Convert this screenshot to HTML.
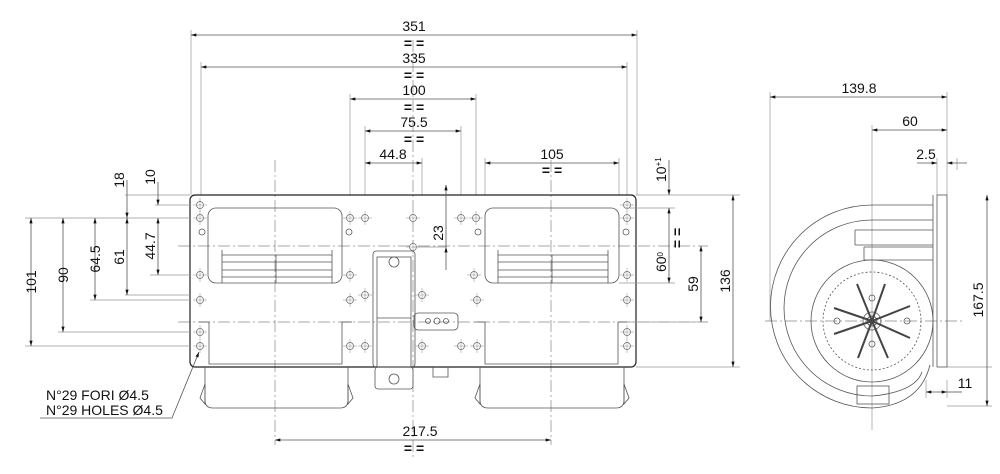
<!DOCTYPE html>
<html><head><meta charset="utf-8"><style>
html,body{margin:0;padding:0;background:#fff;width:1000px;height:474px;overflow:hidden}
svg{display:block}
text{font-family:"Liberation Sans",sans-serif;font-size:14px;fill:#111}
.d{stroke:#555;stroke-width:0.8;fill:none}
.e{stroke:#999;stroke-width:0.7;fill:none}
.c{stroke:#888;stroke-width:0.7;stroke-dasharray:12 3 2 3;fill:none}
.o{stroke:#222;stroke-width:1.2;fill:none}
.t{stroke:#555;stroke-width:0.8;fill:none}
.h{stroke:#666;stroke-width:0.7;fill:#fff}
</style></head><body>
<svg width="1000" height="474" viewBox="0 0 1000 474">
<defs>
<marker id="a" viewBox="0 0 10 6" refX="10" refY="3" markerWidth="8" markerHeight="4" orient="auto-start-reverse"><path d="M0,0L10,3L0,6z" fill="#111"/></marker>
<g id="hole"><circle r="3.5" class="h"/><path d="M-7,0h14M0,-7v14" stroke="#888" stroke-width="0.5"/></g>
</defs>

<g class="e">
<path d="M191,30V195M637,30V195M201,62V195M627,62V195M350,94V195M476,94V195M365,126V195M461,126V195M422,158V195M485,158V195M619,158V195"/>
</g>
<g class="d" marker-start="url(#a)" marker-end="url(#a)">
<path d="M191,35H637"/><path d="M201,67H627"/><path d="M350,99H476"/><path d="M365,131H461"/><path d="M365,163H422"/><path d="M485,163H619"/>
</g>
<g text-anchor="middle">
<text x="414" y="31">351</text><text x="414" y="63">335</text><text x="414" y="95">100</text><text x="414" y="127">75.5</text><text x="393" y="159">44.8</text><text x="552" y="159">105</text>
<text x="414" y="48" font-weight="bold">= =</text><text x="414" y="80" font-weight="bold">= =</text><text x="414" y="112" font-weight="bold">= =</text><text x="414" y="144" font-weight="bold">= =</text><text x="552" y="175" font-weight="bold">= =</text>
<text x="414" y="453" font-weight="bold">= =</text>
</g>
<g class="c">
<path d="M413,40V458"/><path d="M275,160V445"/><path d="M551,160V445"/>
<path d="M178,322H708"/><path d="M178,246H708"/>
</g>

<rect x="190" y="195" width="446" height="172" rx="5" class="o"/>
<g class="t">
<rect x="208" y="208" width="134" height="75" rx="8"/>
<rect x="485" y="208" width="134" height="75" rx="8"/>
<path d="M222,255H332M222,262H332M222,270H332M222,277H332M222,250V283M332,250V283M276,255V283"/>
<path d="M498,255H608M498,262H608M498,270H608M498,277H608M498,250V283M608,250V283M552,255V283"/>
<path d="M199,322H209V364H342V322H352"/>
<path d="M475,322H485V364H618V322H627"/>
<path d="M205,367V400Q205,408 213,408H340Q348,408 348,400V367"/>
<path d="M480,367V400Q480,408 488,408H616Q624,408 624,400V367"/>
<path d="M200,398L205,384V404zM353,398L348,384V404zM475,398L480,384V404zM629,398L624,384V404z"/>
<rect x="373" y="251" width="42" height="116" rx="3"/>
<rect x="377" y="257" width="34" height="110"/>
<rect x="375" y="367" width="38" height="22" rx="3"/>
<path d="M377,318H411"/>
<rect x="414" y="313" width="44" height="17" rx="4"/>
<path d="M433,367v10h15v-10"/>
</g>
<circle cx="394" cy="262" r="5" class="t"/><circle cx="394" cy="379" r="5" class="t"/>
<circle cx="437" cy="321" r="3" class="t"/><circle cx="428" cy="321" r="2.5" class="t"/><circle cx="446" cy="321" r="2.5" class="t"/>
<g>
<use href="#hole" x="200" y="205"/><use href="#hole" x="200" y="218"/><use href="#hole" x="200" y="275"/><use href="#hole" x="200" y="300"/><use href="#hole" x="200" y="332"/><use href="#hole" x="200" y="346"/>
<use href="#hole" x="350" y="218"/><use href="#hole" x="350" y="275"/><use href="#hole" x="350" y="300"/><use href="#hole" x="350" y="346"/>
<use href="#hole" x="365" y="218"/><use href="#hole" x="365" y="295"/><use href="#hole" x="365" y="346"/>
<use href="#hole" x="413" y="218"/><use href="#hole" x="413" y="247"/>
<use href="#hole" x="422" y="295"/><use href="#hole" x="422" y="346"/>
<use href="#hole" x="461" y="218"/><use href="#hole" x="476" y="218"/><use href="#hole" x="474" y="275"/><use href="#hole" x="477" y="300"/><use href="#hole" x="461" y="346"/><use href="#hole" x="477" y="346"/>
<use href="#hole" x="627" y="205"/><use href="#hole" x="627" y="218"/><use href="#hole" x="627" y="275"/><use href="#hole" x="627" y="300"/><use href="#hole" x="627" y="332"/><use href="#hole" x="627" y="346"/>
</g>
<circle cx="202" cy="232" r="3" class="t"/><circle cx="349" cy="232" r="3" class="t"/><circle cx="478" cy="232" r="3" class="t"/><circle cx="626" cy="232" r="3" class="t"/>

<g class="e">
<path d="M125,195H190M155,205H190M25,218H190M125,295H190M150,275H190M90,300H190M58,332H190M25,346H190"/>
</g>
<g class="d" marker-start="url(#a)" marker-end="url(#a)">
<path d="M31,218V346"/><path d="M63,218V332"/><path d="M95,218V300"/><path d="M127,218V295"/><path d="M158,218V275"/>
</g>
<g class="d">
<path d="M127,180V218" marker-end="url(#a)"/><path d="M158,182V205" marker-end="url(#a)"/>
<path d="M446,185V222" marker-start="url(#a)"/><path d="M446,222V247" /><path d="M446,270V247" marker-end="url(#a)"/>
</g>
<g class="e"><path d="M413,247H446"/></g>
<g>
<text transform="translate(36,282) rotate(-90)" text-anchor="middle">101</text>
<text transform="translate(68,275) rotate(-90)" text-anchor="middle">90</text>
<text transform="translate(100,259) rotate(-90)" text-anchor="middle">64.5</text>
<text transform="translate(124,257) rotate(-90)" text-anchor="middle">61</text>
<text transform="translate(124,180) rotate(-90)" text-anchor="middle">18</text>
<text transform="translate(155,177) rotate(-90)" text-anchor="middle">10</text>
<text transform="translate(155,246) rotate(-90)" text-anchor="middle">44.7</text>
<text transform="translate(443,233) rotate(-90)" text-anchor="middle">23</text>
</g>

<g class="e"><path d="M636,195H740M625,208H675M619,283H675M627,322H708M636,367H740"/></g>
<g class="d" marker-start="url(#a)" marker-end="url(#a)">
<path d="M669,208V283"/><path d="M701,246V322"/><path d="M733,195V367"/>
</g>
<g class="d"><path d="M669,160V195" marker-end="url(#a)"/></g>
<g>
<text transform="translate(666,182) rotate(-90)" text-anchor="start">10<tspan font-size="8" dy="-5">+1</tspan></text>
<text transform="translate(666,262) rotate(-90)" text-anchor="middle">60<tspan font-size="8" dy="-3">0</tspan></text>
<text transform="translate(682,238) rotate(-90)" text-anchor="middle" font-weight="bold">= =</text>
<text transform="translate(698,284) rotate(-90)" text-anchor="middle">59</text>
<text transform="translate(730,281) rotate(-90)" text-anchor="middle">136</text>
</g>

<g class="d" marker-start="url(#a)" marker-end="url(#a)"><path d="M275,440H551"/></g>
<text x="420" y="436" text-anchor="middle">217.5</text>

<path d="M40,418H172L199,352" class="d" marker-end="url(#a)"/>
<text x="46" y="400">N°29 FORI Ø4.5</text>
<text x="46" y="415">N°29 HOLES Ø4.5</text>

<g class="e"><path d="M770,92V321M947,92V195M872,125V430M937,158V195M957,158V170M947,367H992M947,406H992M926,380V398M947,380V398"/></g>
<g class="d" marker-start="url(#a)" marker-end="url(#a)">
<path d="M770,97H947"/><path d="M987,195V406"/>
</g>
<g class="d">
<path d="M872,130H947" marker-start="url(#a)" marker-end="url(#a)"/>
<path d="M917,163H937" marker-end="url(#a)"/><path d="M967,163H947" marker-end="url(#a)"/>
<path d="M926,392H947" marker-start="url(#a)" marker-end="url(#a)"/><path d="M962,392H947"/>
</g>
<g text-anchor="middle">
<text x="859" y="93">139.8</text><text x="910" y="126">60</text><text x="926" y="159">2.5</text><text x="965" y="388">11</text>
<text transform="translate(983,300) rotate(-90)">167.5</text>
</g>
<path d="M765,321H965" class="c"/>
<g class="t">
<rect x="937" y="195" width="10" height="172"/>
<path d="M933,195V367"/>
<path d="M933,205H872A101,101 0 0 0 872,408Q920,405 930,365"/>
<path d="M933,220H872A86,86 0 0 0 872,396Q915,392 922,372"/>
<path d="M855,230H933M855,245H933M864,247H933M864,260H933M855,230V245M864,247V260"/>
<rect x="857" y="386" width="32" height="18"/>
<circle cx="872" cy="321" r="61"/>
<circle cx="872" cy="321" r="49" stroke-dasharray="2 2"/>
<circle cx="872" cy="321" r="9"/><circle cx="872" cy="321" r="5"/>
<path d="M872,321L857,284M872,321L885,284M872,321L834,308M872,321L910,306M872,321L834,334M872,321L910,338M872,321L858,358M872,321L888,358" stroke-width="2" stroke="#444"/>
<circle cx="872" cy="298" r="3"/><circle cx="872" cy="344" r="3"/><circle cx="837" cy="321" r="3"/><circle cx="907" cy="321" r="3"/>
</g>
</svg>
</body></html>
